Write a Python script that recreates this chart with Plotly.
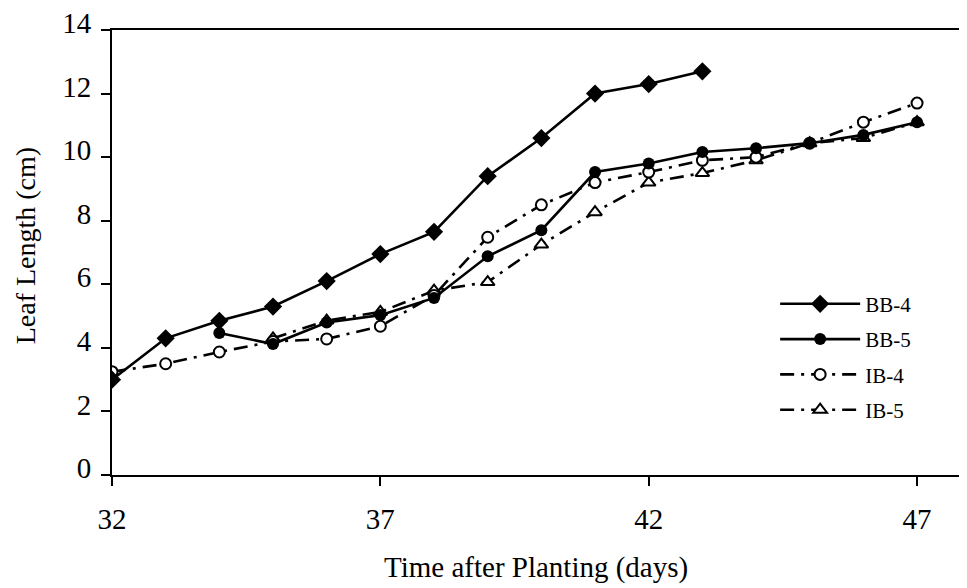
import plotly.graph_objects as go

# ---- data ----
bb4_days = [32, 33, 34, 35, 36, 37, 38, 39, 40, 41, 42, 43]
bb4_len = [3.0, 4.3, 4.85, 5.3, 6.1, 6.95, 7.65, 9.4, 10.6, 12.0, 12.3, 12.7]

bb5_days = [34, 35, 36, 37, 38, 39, 40, 41, 42, 43, 44, 45, 46, 47]
bb5_len = [4.47, 4.12, 4.8, 5.03, 5.57, 6.88, 7.7, 9.53, 9.8, 10.16, 10.28, 10.44, 10.7, 11.1]

ib4_days = [32, 33, 34, 35, 36, 37, 38, 39, 40, 41, 42, 43, 44, 45, 46, 47]
ib4_len = [3.25, 3.5, 3.87, 4.2, 4.28, 4.68, 5.65, 7.48, 8.5, 9.2, 9.53, 9.9, 10.0, 10.44, 11.1, 11.7]

ib5_days = [35, 36, 37, 38, 39, 40, 41, 42, 43, 44, 45, 46, 47]
ib5_len = [4.3, 4.86, 5.13, 5.8, 6.07, 7.25, 8.27, 9.2, 9.5, 9.9, 10.44, 10.6, 11.1]

x_ticks = [32, 37, 42, 47]
y_ticks = [0, 2, 4, 6, 8, 10, 12, 14]

FONT = "Liberation Serif, Times New Roman, serif"
DASHDOT = "14px,7px,3px,7px"

fig = go.Figure()

fig.add_trace(go.Scatter(
    x=ib5_days, y=ib5_len, name="IB-5", mode="lines+markers", legendgroup="g4",
    line=dict(color="black", width=2.6, dash=DASHDOT),
    marker=dict(symbol="triangle-up", size=12, color="white", line=dict(color="black", width=2)),
    legendrank=4,
))
fig.add_trace(go.Scatter(
    x=ib4_days, y=ib4_len, name="IB-4", mode="lines+markers", legendgroup="g3",
    line=dict(color="black", width=2.6, dash=DASHDOT),
    marker=dict(symbol="circle", size=11, color="white", line=dict(color="black", width=2)),
    legendrank=3,
))
fig.add_trace(go.Scatter(
    x=bb5_days, y=bb5_len, name="BB-5", mode="lines+markers", legendgroup="g2",
    line=dict(color="black", width=2.6),
    marker=dict(symbol="circle", size=12, color="black"),
    legendrank=2,
))
fig.add_trace(go.Scatter(
    x=bb4_days, y=bb4_len, name="BB-4", mode="lines+markers", legendgroup="g1",
    line=dict(color="black", width=2.6),
    marker=dict(symbol="diamond", size=14, color="black"),
    legendrank=1,
))

fig.update_layout(
    width=959, height=580,
    margin=dict(l=104, r=7, t=22, b=113, autoexpand=False),
    paper_bgcolor="white", plot_bgcolor="white",
    font=dict(family=FONT, color="black"),
    showlegend=True,
    legend=dict(
        x=0.782, y=0.43, xanchor="left", yanchor="top",
        bgcolor="rgba(0,0,0,0)", font=dict(family=FONT, size=21),
        itemwidth=80, tracegroupgap=5, traceorder="grouped",
    ),
    xaxis=dict(
        range=[32, 47.8], tickvals=x_ticks, ticktext=[str(v) for v in x_ticks],
        showgrid=False, zeroline=False, showline=True, linecolor="black", linewidth=2,
        mirror=True, ticks="outside", ticklen=9, tickwidth=1.5, tickcolor="black",
        tickfont=dict(family=FONT, size=29), ticklabelstandoff=8, automargin=False,
    ),
    yaxis=dict(
        range=[0, 14], tickvals=y_ticks, ticktext=[str(v) for v in y_ticks],
        showgrid=False, zeroline=False, showline=True, linecolor="black", linewidth=2,
        mirror=False, ticks="outside", ticklen=9, tickwidth=1.5, tickcolor="black",
        tickfont=dict(family=FONT, size=29), ticklabelstandoff=4, ticklabelshift=-7,
        ticklabeloverflow="allow", automargin=False,
    ),
    annotations=[
        dict(text="Time after Planting (days)", xref="paper", yref="paper",
             x=0.5, y=-0.207, xanchor="center", yanchor="middle", showarrow=False,
             font=dict(family=FONT, size=29)),
        dict(text="Leaf Length (cm)", xref="paper", yref="paper",
             x=-0.102, y=0.515, xanchor="center", yanchor="middle", showarrow=False,
             textangle=-90, font=dict(family=FONT, size=28)),
    ],
)

fig.write_html("out.html")
